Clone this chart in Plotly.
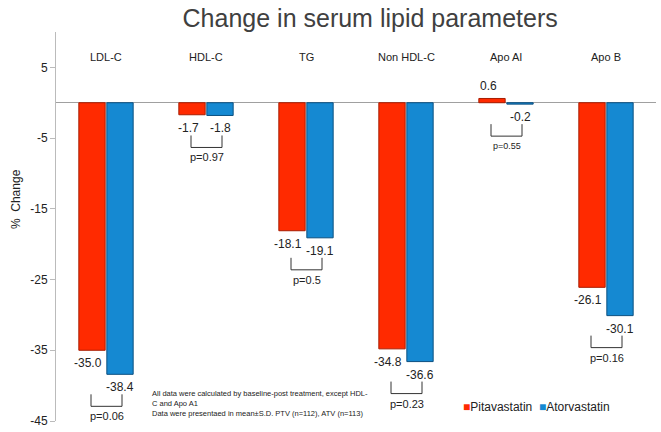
import plotly.graph_objects as go

# ---- data ----
categories = ["LDL-C", "HDL-C", "TG", "Non HDL-C", "Apo AI", "Apo B"]
pitavastatin = [-35.0, -1.7, -18.1, -34.8, 0.6, -26.1]
atorvastatin = [-38.4, -1.8, -19.1, -36.6, -0.2, -30.1]
p_values = ["p=0.06", "p=0.97", "p=0.5", "p=0.23", "p=0.55", "p=0.16"]
y_ticks = [5, -5, -15, -25, -35, -45]
series_names = ["Pitavastatin", "Atorvastatin"]

RED = "#FF2A00"
RED_EDGE = "#A81C00"
BLUE = "#1589D2"
BLUE_EDGE = "#0A4F80"
TXT = "#222222"
FONT = "Liberation Sans, Arial, sans-serif"

fig = go.Figure()
fig.add_trace(go.Bar(x=categories, y=pitavastatin, name=series_names[0],
                     marker=dict(color=RED, line=dict(color=RED_EDGE, width=1)),
                     showlegend=False))
fig.add_trace(go.Bar(x=categories, y=atorvastatin, name=series_names[1],
                     marker=dict(color=BLUE, line=dict(color=BLUE_EDGE, width=1)),
                     showlegend=False))

annotations = []
shapes = []
for i, cat in enumerate(categories):
    pv, av = pitavastatin[i], atorvastatin[i]
    # value labels
    annotations.append(dict(x=cat, y=pv, xref="x", yref="y", text=f"{pv:.1f}",
                            showarrow=False, xshift=-18,
                            yshift=(12 if pv > 0 else -13),
                            font=dict(size=12, color=TXT, family=FONT)))
    annotations.append(dict(x=cat, y=av, xref="x", yref="y", text=f"{av:.1f}",
                            showarrow=False, xshift=14,
                            yshift=(12 if av > 0 else -13),
                            font=dict(size=12, color=TXT, family=FONT)))
    # category label on top
    annotations.append(dict(x=cat, y=6.4, xref="x", yref="y", text=cat,
                            showarrow=False,
                            font=dict(size=11, color=TXT, family=FONT)))
    # p-value bracket
    base = min(pv, av, 0)
    shapes.append(dict(type="path", xref="x", yref="y",
                       xsizemode="pixel", ysizemode="pixel",
                       xanchor=cat, yanchor=base,
                       path="M -15,-20 L -15,-32 L 16,-32 L 16,-20",
                       line=dict(color="#333333", width=1)))
    annotations.append(dict(x=cat, y=base, xref="x", yref="y", text=p_values[i],
                            showarrow=False, xshift=1, yshift=-42,
                            font=dict(size=(9 if cat == "Apo AI" else 11),
                                      color=TXT, family=FONT)))

# y-axis title
annotations.append(dict(x=-0.067, y=0.57, xref="paper", yref="paper",
                        xanchor="center", yanchor="middle",
                        text="%  Change", textangle=-90, showarrow=False,
                        font=dict(size=12, color=TXT, family=FONT)))
# footnote
annotations.append(dict(x=0.157, y=0.087, xref="paper", yref="paper",
                        xanchor="left", yanchor="top", align="left",
                        text=("All data were calculated by baseline-post treatment, except HDL-<br>"
                              "C and Apo A1<br>"
                              "Data were presentaed in mean\u00b1S.D. PTV (n=112), ATV (n=113)"),
                        showarrow=False,
                        font=dict(size=7.5, color=TXT, family=FONT)))
# legend
annotations.append(dict(x=0.675, y=0.036, xref="paper", yref="paper",
                        xanchor="left", yanchor="middle",
                        text=(f"<span style='color:{RED}'>\u25a0</span>{series_names[0]}  "
                              f"<span style='color:{BLUE}'>\u25a0</span>{series_names[1]}"),
                        showarrow=False,
                        font=dict(size=12, color=TXT, family=FONT)))

fig.update_layout(
    width=661, height=432,
    margin=dict(l=56, r=5, t=32, b=11),
    paper_bgcolor="white", plot_bgcolor="white",
    barmode="group", bargap=0.44, bargroupgap=0.06,
    title=dict(text="Change in serum lipid parameters", x=0.56, xref="container",
               xanchor="center", y=0.958, yanchor="middle",
               font=dict(size=25, color="#404040", family=FONT)),
    xaxis=dict(showticklabels=False, showline=False, showgrid=False,
               zeroline=False, ticks=""),
    yaxis=dict(range=[-45, 10], tickvals=y_ticks, ticktext=[str(v) for v in y_ticks],
               showgrid=False, showline=True, linecolor="#BBBBBB", linewidth=1,
               ticks="outside", ticklen=5, tickcolor="#BBBBBB",
               zeroline=True, zerolinecolor="#A0A0A0", zerolinewidth=1,
               tickfont=dict(size=12, color=TXT, family=FONT)),
    annotations=annotations, shapes=shapes,
    font=dict(family=FONT, color=TXT),
)

fig.write_html("out.html",
               config={"displayModeBar": False},
               post_script="document.body.style.margin='0';document.body.style.padding='0';")
